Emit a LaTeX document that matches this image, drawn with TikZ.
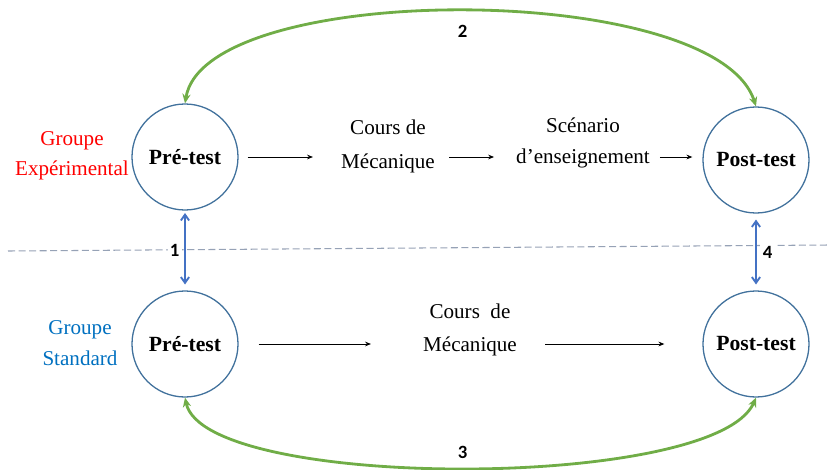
\documentclass[tikz,border=0pt]{standalone}
\usepackage{fontspec}
\setmainfont{Liberation Serif}
\newfontfamily\numfont{Carlito}
\usetikzlibrary{arrows.meta}
\definecolor{circblue}{RGB}{65,113,156}
\definecolor{arcgreen}{RGB}{112,173,71}
\definecolor{linkblue}{RGB}{68,114,196}
\definecolor{sepgray}{RGB}{150,162,182}
\definecolor{grpred}{RGB}{255,0,0}
\definecolor{grpblue}{RGB}{0,112,192}
\tikzset{
  test/.style={circle,draw=circblue,line width=1.1pt,minimum size=3.18cm,inner sep=0pt,
    font=\bfseries\fontsize{18.5}{20}\selectfont},
  txt/.style={align=center,inner sep=0pt,font=\fontsize{18}{26}\selectfont},
  num/.style={fill=white,text=black,inner sep=2pt,font=\numfont\bfseries\fontsize{16}{18}\selectfont},
  flow/.style={-{Stealth[length=5pt,width=4pt]},line width=0.7pt,black},
  link/.style={{Straight Barb[length=5pt,width=7pt]}-{Straight Barb[length=5pt,width=7pt]},
    linkblue,line width=1.6pt},
  loop/.style={{Stealth[length=8pt,width=7pt]}-{Stealth[length=8pt,width=7pt]},
    arcgreen,line width=2.4pt}
}
\begin{document}
\begin{tikzpicture}[x=0.03cm,y=-0.03cm,>=Stealth]
    \useasboundingbox (0,0) rectangle (829,470);
    \draw[sepgray,line width=0.9pt,dash pattern=on 6pt off 3pt] (8,251)--(829,245);
    % circles
    \node[test] (preA) at (185,157) {Pré-test};
    \node[test] (postA) at (756,160) {Post-test};
    \node[test] (preB) at (185,344) {Pré-test};
    \node[test] (postB) at (756,344) {Post-test};
    % texts
    \node[txt,grpred] (grpA) at (72,156) {Groupe\\Expérimental};
    \node[txt,grpblue] (grpB) at (80,343) {Groupe\\Standard};
    \node[txt] (coursA) at (388,146) {Cours de\\[3pt]Mécanique};
    \node[txt] (scenA) at (583,143) {Scénario\\d’enseignement};
    \node[txt] (coursB) at (470,330) {Cours~ de\\[2pt]Mécanique};
    % flow arrows
    \draw[flow,shorten <=0.27cm,shorten >=0.84cm] (preA.east) -- (preA.east -| coursA.west);
    \draw[flow,shorten <=0.42cm,shorten >=0.66cm] (coursA.east |- preA.east) -- (scenA.west |- preA.east);
    \draw[flow,shorten <=0.3cm,shorten >=0.3cm] (scenA.east |- preA.east) -- (postA.west |- preA.east);
    \draw[flow,shorten <=0.6cm,shorten >=1.56cm] (preB.east) -- (preB.east -| coursB.west);
    \draw[flow,shorten <=0.84cm,shorten >=1.14cm] (coursB.east |- preB.east) -- (postB.west);
    % links
    \draw[link,shorten <=2pt,shorten >=5pt] (preA.south) -- node[num,left=2pt] {1} (preB.north);
    \draw[link,shorten <=5pt,shorten >=5pt] (postA.south) -- node[num,right=3pt] {4} (postB.north);
    \draw[loop] (preA.north) .. controls (205,-20) and (715,-20) .. node[num,fill=none,below=0.3cm] {2} (postA.north);
    \draw[loop] (preB.south) .. controls (205,491) and (715,491) .. node[num,fill=none,above=0.15cm] {3} (postB.south);
\end{tikzpicture}
\end{document}
